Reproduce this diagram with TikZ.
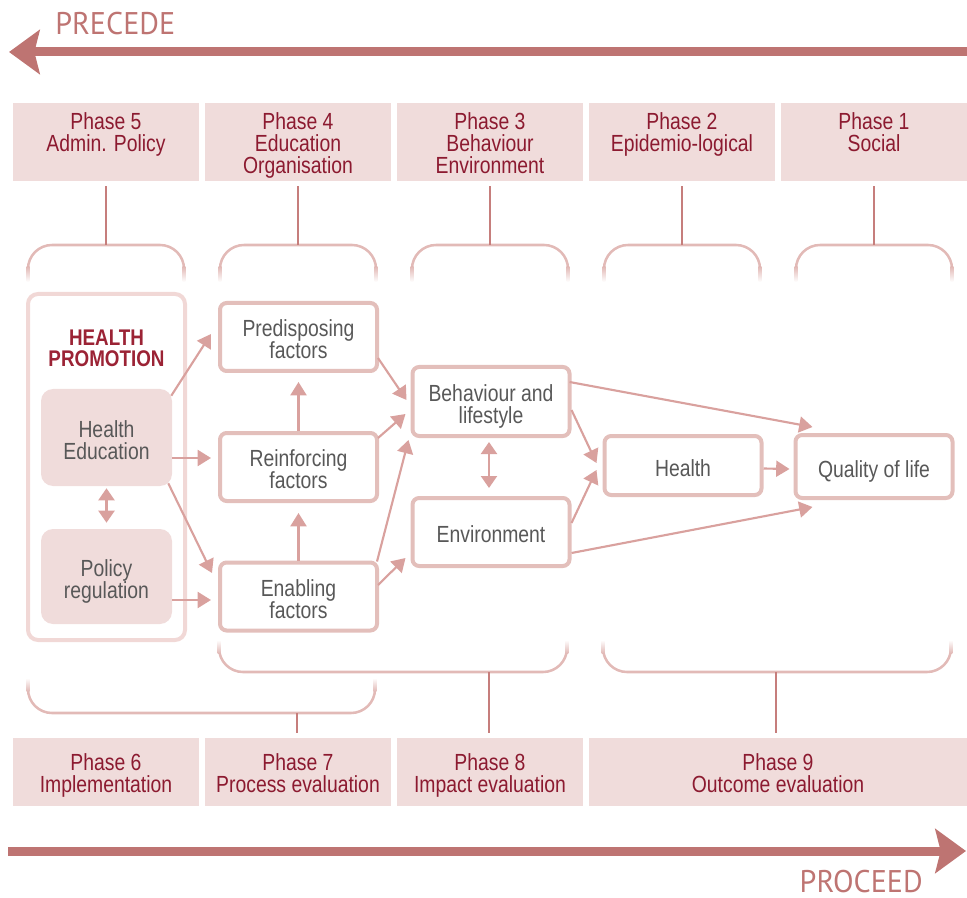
\documentclass[tikz,border=0pt]{standalone}
\usepackage{fontspec}
\setmainfont{Liberation Sans}[FakeStretch=0.83]
\newfontfamily\bannerfont{PT Sans}[FakeStretch=0.96]
\usetikzlibrary{arrows.meta}

\definecolor{bannerc}{RGB}{190,116,114}
\definecolor{phasefill}{RGB}{240,220,219}
\definecolor{phasetext}{RGB}{140,26,48}
\definecolor{stemc}{RGB}{198,126,124}
\definecolor{bracketc}{RGB}{226,186,183}
\definecolor{framec}{RGB}{241,216,214}
\definecolor{boxc}{RGB}{227,191,187}
\definecolor{flowc}{RGB}{217,161,158}
\definecolor{textc}{RGB}{88,88,88}
\definecolor{hpc}{RGB}{155,35,53}

\newcommand{\boxfont}{\fontsize{17.5pt}{16.5pt}\selectfont}
% invisible struts to push the text a little below the middle
\newcommand{\phasetop}{\rule{0pt}{18.8pt}}
\newcommand{\boxtop}{\rule{0pt}{20.7pt}}

\tikzset{
  phasebox/.style={fill=phasefill, minimum width=139.5pt, inner sep=0pt, align=center, text=phasetext, font=\boxfont},
  factorbox/.style={draw=boxc, line width=3pt, rounded corners=5pt, fill=white, minimum width=117.75pt, inner sep=0pt, align=center, text=textc, font=\boxfont},
  innerbox/.style={fill=phasefill, rounded corners=9pt, minimum width=98.25pt, inner sep=0pt, align=center, text=textc, font=\boxfont},
  flow/.style={draw=flowc, line width=1.6pt, -{Triangle[length=10pt,width=12pt]}},
  flowboth/.style={draw=flowc, line width=1.6pt, {Triangle[length=9pt,width=12pt]}-{Triangle[length=9pt,width=12pt]}},
  stem/.style={draw=stemc, line width=1.6pt},
  bracket/.style={draw=bracketc, line width=1.9pt, rounded corners=18pt},
  bracketend/.style={top color=bracketc, bottom color=white},
  bigarrow/.style={draw=bannerc, line width=6.75pt, -{Stealth[length=23pt,width=33pt,inset=4pt]}},
  banner/.style={text=bannerc, font=\bannerfont\fontsize{23.5pt}{24pt}\selectfont, inner sep=0pt},
}

\begin{document}
\begin{tikzpicture}[x=0.75pt,y=0.75pt,yscale=-1,xscale=1]
    \useasboundingbox (0,0) rectangle (967,898);

    % PRECEDE banner
    \coordinate (precR) at (967,52);
    \coordinate (precL) at (9,52);
    \draw[bigarrow] (precR) -- (precL);
    \node[banner, anchor=base west] (precede) at (55,35) {PRECEDE};

    % Phases 5 to 1
    \node[phasebox, minimum height=58.5pt] (p5) at (106,142) {\phasetop Phase 5\\Admin. Policy\\\strut};
    \node[phasebox, minimum height=58.5pt] (p4) at (298,142) {\phasetop Phase 4\\Education\\Organisation\strut};
    \node[phasebox, minimum height=58.5pt] (p3) at (490,142) {\phasetop Phase 3\\Behaviour\\Environment\strut};
    \node[phasebox, minimum height=58.5pt] (p2) at (682,142) {\phasetop Phase 2\\Epidemio-logical\\\strut};
    \node[phasebox, minimum height=58.5pt] (p1) at (874,142) {\phasetop Phase 1\\Social\\\strut};

    % brackets under the phases
    \foreach \cx/\ph in {106/p5,298/p4,490/p3,682/p2,874/p1}{
      \coordinate (t\ph) at (\cx,245);
      \draw[bracket] (\cx-78,268) -- (\cx-78,245) -- (\cx+78,245) -- (\cx+78,268);
      \shade[bracketend] (\cx-79.3,267) rectangle (\cx-76.7,282);
      \shade[bracketend] (\cx+76.7,267) rectangle (\cx+79.3,282);
      \draw[stem] ([shift={(0,5)}]\ph.south) -- (t\ph);
    }

    % Health promotion
    \node[draw=framec, line width=3pt, rounded corners=7.5pt, minimum width=117.75pt, minimum height=259.5pt] (hpframe) at (106.5,467) {};
    \node[text=hpc, font=\bfseries\fontsize{17pt}{15.75pt}\selectfont, align=center, inner sep=0pt] (hptitle) at (106.5,348) {HEALTH\\PROMOTION};
    \node[innerbox, minimum height=72.75pt] (he) at (106.5,437.5) {\boxtop Health\\Education\strut};
    \node[innerbox, minimum height=71.25pt] (pr) at (106.5,576.5) {\boxtop Policy\\regulation\strut};

    % factors
    \node[factorbox, minimum height=51pt] (pre) at (298.5,337) {\boxtop Predisposing\\factors\strut};
    \node[factorbox, minimum height=51pt] (rei) at (298.5,467) {\boxtop Reinforcing\\factors\strut};
    \node[factorbox, minimum height=51pt] (ena) at (298.5,596.5) {\boxtop Enabling\\factors\strut};

    \node[factorbox, minimum height=51.75pt] (beh) at (491,401.5) {\boxtop Behaviour and\\lifestyle\strut};
    \node[factorbox, minimum height=51pt] (env) at (491,532) {\boxtop Environment\strut};
    \node[factorbox, minimum height=44.25pt] (hea) at (683,465.5) {\boxtop Health\strut};
    \node[factorbox, minimum height=47.25pt] (qol) at (874,466.5) {\boxtop Quality of life\strut};

    % arrows
    \draw[flowboth] ([shift={(0,2)}]he.south) -- ([shift={(0,-6)}]pr.north);
    \draw[flow] ([shift={(-1,7)}]he.north east) -- ([shift={(-7,-3)}]pre.west);
    \draw[flow] ([shift={(0,20.5)}]he.east) -- ([shift={(-7,-9)}]rei.west);
    \draw[flow] ([shift={(-4,-3)}]he.south east) -- ([shift={(-6,-23.5)}]ena.west);
    \draw[flow] ([shift={(0,23.5)}]pr.east) -- ([shift={(-7,3.5)}]ena.west);
    \draw[flow] (rei.north) -- ([shift={(0,9)}]pre.south);
    \draw[flow] (ena.north) -- ([shift={(0,10)}]rei.south);

    \draw[flow] ([shift={(-1,21)}]pre.east) -- ([shift={(-4,-1.5)}]beh.west);
    \draw[flow] ([shift={(-1,-29)}]rei.east) -- ([shift={(-5,12.5)}]beh.west);
    \draw[flow] ([shift={(-2,1)}]ena.north east) -- ([shift={(-2,2)}]beh.south west);
    \draw[flow] ([shift={(-1,-11.5)}]ena.east) -- ([shift={(-5,26)}]env.west);
    \draw[flowboth] ([shift={(-2,4)}]beh.south) -- ([shift={(-2,-8)}]env.north);

    \draw[flow] ([shift={(-2,-19.5)}]beh.east) -- ([shift={(19,-6)}]qol.north west);
    \draw[flow] ([shift={(0,8.5)}]beh.east) -- ([shift={(-6,-2.5)}]hea.west);
    \draw[flow] ([shift={(0,-9)}]env.east) -- ([shift={(-6,4.5)}]hea.west);
    \draw[flow] ([shift={(0,21)}]env.east) -- ([shift={(19,7)}]qol.south west);
    \draw[flow] ([shift={(0,3)}]hea.east) -- ([shift={(-4,2.5)}]qol.west);

    % brackets above the evaluation phases
    \coordinate (b7) at (297,713);
    \coordinate (b8) at (489,672);
    \coordinate (b9) at (776,672);
    \draw[bracket] (28,690) -- (28,713) -- (375,713) -- (375,690);
    \draw[bracket] (219,652) -- (219,672) -- (567,672) -- (567,652);
    \draw[bracket] (603,652) -- (603,672) -- (951,672) -- (951,652);
    \foreach \bx/\by in {28/690,375/690,219/652,567/652,603/652,951/652}{
      \shade[bottom color=bracketc, top color=white] (\bx-1.3,\by-12) rectangle (\bx+1.3,\by+1);
    }

    % Phases 6 to 9
    \node[phasebox, minimum height=51pt] (p6) at (106,772) {\phasetop Phase 6\\Implementation\strut};
    \node[phasebox, minimum height=51pt] (p7) at (298,772) {\phasetop Phase 7\\Process evaluation\strut};
    \node[phasebox, minimum height=51pt] (p8) at (490,772) {\phasetop Phase 8\\Impact evaluation\strut};
    \node[phasebox, minimum height=51pt, minimum width=283.5pt] (p9) at (778,772) {\phasetop Phase 9\\Outcome evaluation\strut};
    \draw[stem] (b7) -- ([shift={(-1,-5)}]p7.north);
    \draw[stem] (b8) -- ([shift={(-1,-5)}]p8.north);
    \draw[stem] (b9) -- ([shift={(-2,-5)}]p9.north);

    % PROCEED banner
    \coordinate (procL) at (8,851);
    \coordinate (procR) at (966,851);
    \draw[bigarrow] (procL) -- (procR);
    \node[banner, anchor=base east] (proceed) at (923,892) {PROCEED};
\end{tikzpicture}
\end{document}
